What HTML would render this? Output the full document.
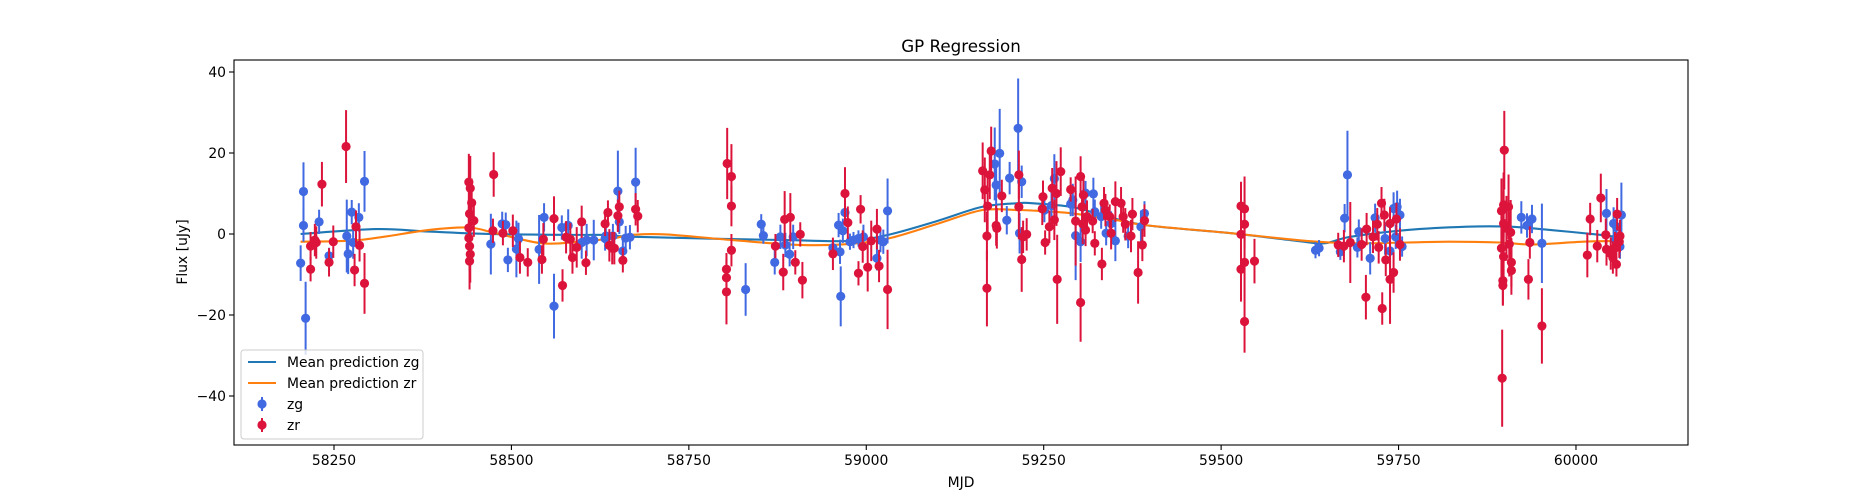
<!DOCTYPE html>
<html><head><meta charset="utf-8"><style>
body{margin:0;background:#fff;}
svg{display:block;font-family:"DejaVu Sans","Liberation Sans",sans-serif;}
</style></head><body>
<svg id="chart" width="1875" height="500" xmlns="http://www.w3.org/2000/svg">
<rect width="1875" height="500" fill="#fff"/>
<text x="961" y="52" text-anchor="middle" font-size="16.7">GP Regression</text>
<text x="961" y="487" text-anchor="middle" font-size="13.9">MJD</text>
<text transform="translate(187,252) rotate(-90)" text-anchor="middle" font-size="13.9">Flux [uJy]</text>
<g id="plot"></g>
</svg>
<script>
const xTicks=[58250,58500,58750,59000,59250,59500,59750,60000];
const yTicks=[-40,-20,0,20,40];
const zgMjd=[58203,58207,58207,58210,58229,58243,58268,58270,58275,58277,58285,58293,58471,58487,58492,58495,58507,58510,58539,58546,58560,58571,58580,58599,58606,58616,58632,58633,58643,58650,58652,58657,58661,58667,58675,58830,58852,58855,58871,58879,58886,58892,58897,58953,58961,58963,58964,58967,58970,58977,58982,58989,58996,59015,59020,59024,59030,59181,59183,59188,59198,59202,59214,59216,59219,59251,59261,59265,59288,59291,59295,59302,59309,59320,59322,59331,59338,59345,59351,59369,59387,59392,59633,59638,59668,59674,59678,59692,59694,59710,59717,59731,59738,59743,59746,59748,59752,59755,59923,59931,59938,59952,60043,60053,60056,60057,60062,60064];
const zgFlux=[-7.2,10.5,2.1,-20.8,3.0,-5.4,-0.5,-4.9,5.4,-2.1,4.1,13.0,-2.5,2.5,2.3,-6.4,-3.7,-1.2,-3.8,4.1,-17.8,1.6,2.1,-2.1,-1.5,-1.5,-1.1,-0.5,-0.5,10.6,3,-4.2,-1,-0.8,12.8,-13.7,2.4,-0.4,-7,-0.7,-2.7,-5,-0.7,-3.4,2.2,-4.4,-15.4,0.8,5.3,-1.9,-1.5,-1.1,-0.7,-6,-1.5,-1.9,5.7,17.3,12.1,19.9,3.4,13.8,26.1,0.2,12.9,5.9,7,13.7,7.4,8.4,-0.4,-1.9,10.1,9.9,5.5,4.3,0.2,2.6,-1.7,-0.5,1.8,5.1,-4,-3.5,-4.4,3.9,14.6,-3.3,0.6,-6,4,-1.1,-4.2,6.3,-0.7,6.7,4.7,-3.1,4.1,2.1,3.7,-2.3,5.1,2.6,-1.5,1.8,-3.1,4.7];
const zgErr=[4.4,7.2,4,9,3,2,9,5,3,4,3.5,7.5,7.5,3,3,3,7,4,8.5,3.5,8,3,4,4,4,5,3,3,3,10,3,3,3,3,8.5,6.5,2.5,2,3,3,3,3,3,2,3,3,7.4,3,3,2,2,2,3,3,3,3,8,9,6,11,3.5,4,12.3,5,4,3,4,6,3,4,11,5,3,4,3,3,3,3,5,3,4,3,2,2,2,3.5,10.9,2.5,3,4,3.5,4,4,4,3,4,4,2.5,4,3,3.5,9.8,6,4,3,4,3,8];
const zrMjd=[58217,58217,58223,58225,58233,58243,58249,58267,58279,58281,58286,58293,58440,58442,58444,58441,58447,58440,58440,58441,58442,58441,58475,58474,58488,58502,58512,58523,58543,58545,58560,58572,58577,58583,58586,58592,58599,58605,58632,58636,58638,58642,58645,58650,58652,58657,58675,58678,58804,58810,58810,58810,58803,58803,58803,58872,58883,58885,58893,58900,58907,58910,58953,58970,58974,58989,58992,58995,59002,59007,59015,59018,59030,59164,59167,59170,59170,59171,59176,59174,59183,59184,59191,59215,59215,59219,59221,59226,59249,59248,59252,59258,59262,59265,59268,59269,59274,59288,59295,59302,59302,59304,59306,59305,59309,59311,59319,59322,59332,59335,59337,59343,59345,59351,59359,59362,59365,59373,59375,59383,59389,59392,59528,59533,59533,59528,59528,59533,59533,59547,59665,59673,59682,59698,59704,59705,59714,59720,59722,59726,59727,59730,59732,59738,59738,59743,59747,59752,59899,59895,59898,59905,59898,59902,59908,59895,59898,59906,59909,59909,59897,59897,59896,59935,59933,59952,60016,60020,60030,60035,60042,60043,60049,60052,60055,60057,60058,60062,60061];
const zrFlux=[-8.7,-3.0,-1.5,-2.1,12.3,-7.0,-1.9,21.6,-8.9,1.8,-2.8,-12.2,12.8,11.3,7.7,5,3.3,1.5,-1,-3,-5,-6.7,14.7,0.8,0.2,0.8,-5.8,-7.0,-6.3,-1.3,3.8,-12.7,-0.8,-1.3,-5.8,-3.3,3.0,-7.1,2.5,5.3,-2.8,-3.5,-3.5,4.5,6.7,-6.5,6.1,4.4,17.4,14.2,6.9,-4,-8.7,-10.8,-14.3,-3,-9.4,3.6,4.1,-7,-0.1,-11.4,-4.9,10,2.8,-9.7,6.1,-3.1,-8.2,-1.7,1.2,-7.9,-13.7,15.6,10.9,-13.4,-0.5,6.9,20.5,14.6,2.1,1.4,9.4,14.6,6.7,-6.3,-0.7,-0.1,9.2,6.2,-2.1,1.8,11.3,3.5,10,-11.2,15.4,11,3.2,14.2,-16.9,6.7,9.6,2.5,1,4.3,3.2,-2.3,-7.4,7.6,5.9,4.3,0.2,8,7.6,4.3,2.4,-0.5,4.9,-9.5,-2.7,3.3,6.9,6.2,2.4,-0.1,-8.7,-7,-21.6,-6.7,-2.7,-3,-2.1,-2.6,-15.6,1.2,-0.7,2.4,-3.3,7.6,-18.4,4.7,-6.4,2.6,-11.2,-9.5,3.7,-2.6,20.7,5.7,7.2,6.7,2.6,1.4,0.4,-3.5,-5.6,-2.5,-7,-9,-11.5,-12.7,-35.6,-2.1,-11.2,-22.7,-5.2,3.7,-3,8.9,-0.2,-3.8,-4.8,-5.8,-3.5,-7.5,4.9,-0.5,-1.9];
const zrErr=[3,3.5,4,4,5.5,3.5,4,9,4,4,4,7.5,7,8,6,7,4,7,6,6,7,7,5.5,3,3,4,4,3.5,3.5,4,5.5,4,4,4,4,5,4,3,3,3,4,4,4,4,4,3,4,4,8.8,8,5,4,4,5,8,3,4.5,7,6,3,3,4.5,4,6.5,4,3,3.5,4,6,5,5,4,9.8,7,8,9.4,6,7,6,6,5,5,4,6,8,8,4,4,4,4,3,4,5,5,8,11,6,3,11,5,9.7,4,4,5,4,4,3,3,4,4,4,3,4,5,4,4,4,4,4,7.7,4,4,6,8,6,8,8,7,7.7,5.5,3,4,10,4,5.5,4,4,4,4,4,4,4,4,4,11,5,4,4,9.7,8,8,8,8,8,8,8,6,8,6,6,6,5,12,4,5,9.3,5.5,4,4,6,4,4,4,4,4,3,4,4,4];
const gpZgMjd=[58203,58309,58384,58468,58571,58642,58671,58886,58975,59031,59100,59163,59214,59233,59289,59340,59397,59514,59607,59645,59682,59763,59846,59907,59963,60034,60065];
const gpZgFlux=[0,1.2,0.6,0,-0.2,-0.25,-0.7,-1.5,-1.7,-0.2,3.2,6.7,7.6,7.6,6.7,4.3,2.1,0.2,-1.7,-2.3,-0.7,1,1.8,1.8,1,-0.2,-0.9];
const gpZrMjd=[58203,58285,58384,58440,58478,58543,58595,58642,58671,58718,58811,58905,58975,59031,59100,59163,59214,59233,59289,59350,59397,59514,59607,59654,59701,59763,59822,59893,59940,60010,60065];
const gpZrFlux=[-1.9,-1.5,1,1.6,0.2,-2.3,-1.9,-1.1,-0.2,-0.1,-1.5,-2.7,-2.5,-1.1,2.5,5.9,5.9,5.8,5.1,3.5,2.1,0.2,-1.5,-2.1,-2.3,-2.1,-1.9,-2.1,-2.6,-1.9,-1.7];

const L=234,R=1688,T=60,B=445;
const X=m=>334+(m-58250)*0.7097;
const Y=v=>234-v*4.05;
const NS='http://www.w3.org/2000/svg';
const g=document.getElementById('plot');
function mk(tag,attrs,parent){const e=document.createElementNS(NS,tag);for(const k in attrs)e.setAttribute(k,attrs[k]);(parent||g).appendChild(e);return e;}
const clip=mk('clipPath',{id:'cp'});mk('rect',{x:L,y:T,width:R-L,height:B-T},clip);
const plotArea=mk('g',{'clip-path':'url(#cp)'});


function smooth(xs,ys){let d='M'+X(xs[0]).toFixed(1)+','+Y(ys[0]).toFixed(1);
 for(let i=0;i<xs.length-1;i++){const p0=[X(xs[Math.max(0,i-1)]),Y(ys[Math.max(0,i-1)])],p1=[X(xs[i]),Y(ys[i])],p2=[X(xs[i+1]),Y(ys[i+1])],p3=[X(xs[Math.min(xs.length-1,i+2)]),Y(ys[Math.min(xs.length-1,i+2)])];
 const c1=[p1[0]+(p2[0]-p0[0])/6,p1[1]+(p2[1]-p0[1])/6],c2=[p2[0]-(p3[0]-p1[0])/6,p2[1]-(p3[1]-p1[1])/6];
 d+=' C'+c1.map(v=>v.toFixed(1))+' '+c2.map(v=>v.toFixed(1))+' '+p2.map(v=>v.toFixed(1));}
 return d;}
const lz=mk('path',{d:smooth(gpZgMjd,gpZgFlux),fill:'none',stroke:'#1f77b4','stroke-width':2.1},plotArea);


const lr=mk('path',{d:smooth(gpZrMjd,gpZrFlux),fill:'none',stroke:'#ff7f0e','stroke-width':2.1},plotArea);


function series(ms,fs,es,col,name){const sg=mk('g',{},plotArea);
 
 
 for(let i=0;i<ms.length;i++){const x=X(ms[i]);
  const eb=mk('line',{x1:x,x2:x,y1:Y(fs[i]-es[i]),y2:Y(fs[i]+es[i]),stroke:col,'stroke-width':2},sg);
  
  }
 for(let i=0;i<ms.length;i++){const c=mk('circle',{cx:X(ms[i]),cy:Y(fs[i]),r:4.6,fill:col},sg);
  
  }}
series(zgMjd,zgFlux,zgErr,'#4169e1','zg');
series(zrMjd,zrFlux,zrErr,'#dc143c','zr');
const fr=mk('rect',{x:L,y:T,width:R-L,height:B-T,fill:'none',stroke:'#000','stroke-width':1.1});


xTicks.forEach(t=>{const x=X(t);mk('line',{x1:x,x2:x,y1:B,y2:B+5,stroke:'#000','stroke-width':1.1});
 const tx=mk('text',{x:x,y:B+20,'text-anchor':'middle','font-size':13.9});tx.textContent=t;
 
 });
yTicks.forEach(t=>{const y=Y(t);mk('line',{x1:L-5,x2:L,y1:y,y2:y,stroke:'#000','stroke-width':1.1});
 const tx=mk('text',{x:L-8,y:y+5,'text-anchor':'end','font-size':13.9});tx.textContent=t<0?'\u2212'+(-t):t;
 
 });
const lg=mk('g',{});


mk('rect',{x:241,y:350,width:182,height:89,rx:3,fill:'#fff','fill-opacity':0.8,stroke:'#ccc','stroke-width':1},lg);
const items=[['line','#1f77b4','Mean prediction zg'],['line','#ff7f0e','Mean prediction zr'],['pt','#4169e1','zg'],['pt','#dc143c','zr']];
items.forEach((it,i)=>{const y=362+i*21;const eg=mk('g',{},lg);
 
 
 if(it[0]=='line')mk('line',{x1:248,x2:276,y1:y,y2:y,stroke:it[1],'stroke-width':2.1},eg);
 else{mk('line',{x1:262,x2:262,y1:y-7,y2:y+7,stroke:it[1],'stroke-width':2},eg);mk('circle',{cx:262,cy:y,r:4.6,fill:it[1]},eg);}
 const t=mk('text',{x:287,y:y+5,'font-size':13.9},eg);t.textContent=it[2];});
</script>
</body></html>
